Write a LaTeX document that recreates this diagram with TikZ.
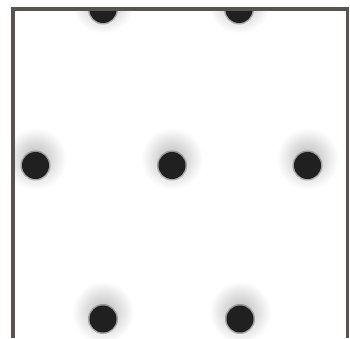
\documentclass[tikz,border=0pt]{standalone}
\usepackage{tikz}
\usetikzlibrary{positioning}
\definecolor{frameGray}{RGB}{90, 82, 80}
\definecolor{dotBlack}{RGB}{32, 32, 32}
\begin{document}
\begin{tikzpicture}[
      x=1pt, y=1pt,
      frame/.style = {draw=frameGray, line width=3.5pt},
      halo/.style  = {circle, inner sep=0pt, minimum size=62pt,
                      shade, inner color=black!28, outer color=white,
                      yshift=7pt},
      dot/.style   = {circle, inner sep=0pt, minimum size=27pt,
                      fill=dotBlack, draw=dotBlack, draw opacity=0.3,
                      line width=3pt},
    ]
    \useasboundingbox (0,0) rectangle (350,338);
    \fill[white] (0,0) rectangle (350,338);
    %% ── Gitter ─────────────────────────────────────────────────
    \begin{scope}
      \clip (13,0) rectangle (347.5,329);
      % Halos
      \node[halo] (ht1) at (103,328.5) {};
      \node[halo] (ht2) at (239,328.5) {};
      \node[halo] (hm1) at (35.5,172.5) {};
      \node[halo] (hm2) at (172,172.5) {};
      \node[halo] (hm3) at (307.5,172.5) {};
      \node[halo] (hb1) at (103,19) {};
      \node[halo] (hb2) at (240,19) {};
      % Punkte
      \node[dot] (t1) at (103,328.5) {};
      \node[dot] (t2) at (239,328.5) {};
      \node[dot] (m1) at (35.5,172.5) {};
      \node[dot] (m2) at (172,172.5) {};
      \node[dot] (m3) at (307.5,172.5) {};
      \node[dot] (b1) at (103,19) {};
      \node[dot] (b2) at (240,19) {};
    \end{scope}
    %% ── Rahmen ─────────────────────────────────────────────────
    \draw[frame] (13,0) |- (347.5,329) -- (347.5,0);
  \end{tikzpicture}
\end{document}
